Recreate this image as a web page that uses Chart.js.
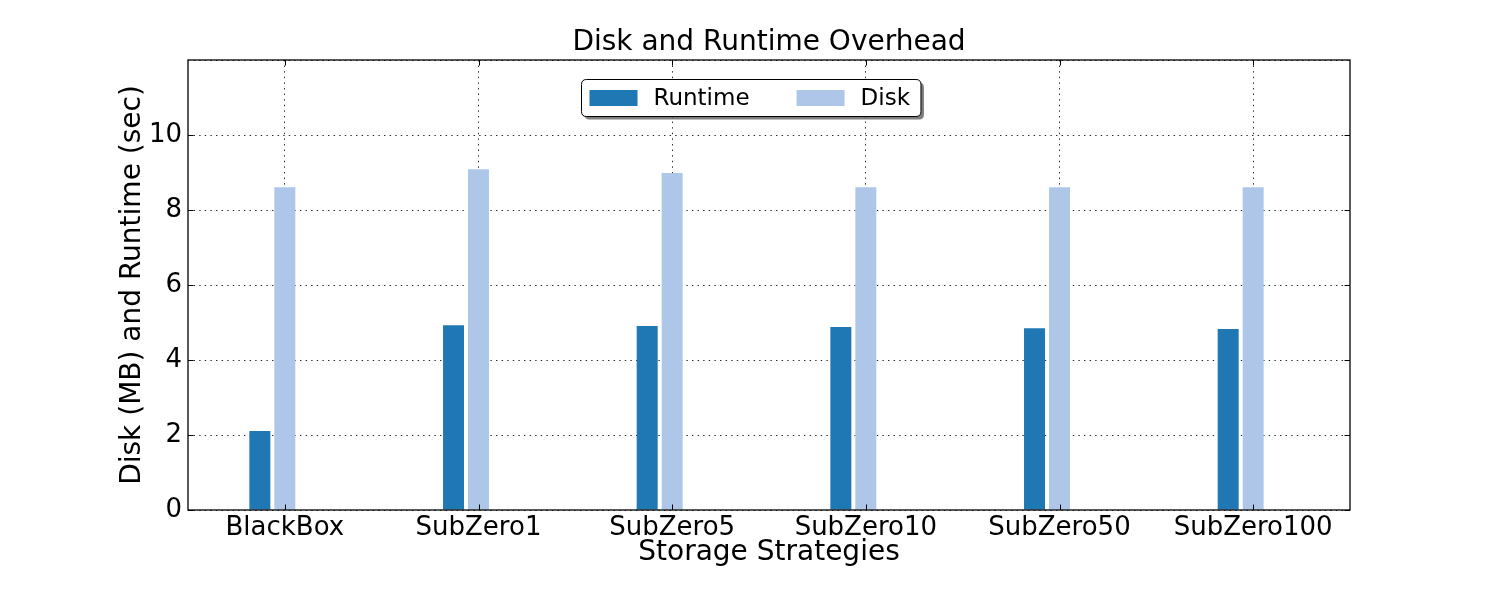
<!DOCTYPE html>
<html>
<head>
<meta charset="utf-8">
<script src="https://cdn.jsdelivr.net/npm/chart.js@4/dist/chart.umd.min.js"></script>
<style>
  html, body { margin: 0; padding: 0; background: #ffffff; }
  #wrap { width: 1500px; height: 600px; }
</style>
</head>
<body>
<div id="wrap"><canvas id="c" width="1500" height="600"></canvas></div>
<script>
const categories = ['BlackBox', 'SubZero1', 'SubZero5', 'SubZero10', 'SubZero50', 'SubZero100'];
const runtimeValues = [2.11, 4.93, 4.91, 4.88, 4.85, 4.83];
const diskValues = [8.61, 9.09, 8.99, 8.61, 8.61, 8.61];
const yTicks = [0, 2, 4, 6, 8, 10];

const FONT = 'DejaVu Sans';

const framePlugin = {
  id: 'framePlugin',
  afterDraw(chart) {
    const ctx = chart.ctx;
    const a = chart.chartArea;
    const xs = chart.scales.x, ys = chart.scales.y;
    ctx.save();
    // inward tick marks
    ctx.strokeStyle = '#000';
    ctx.lineWidth = 1;
    ctx.setLineDash([]);
    const tl = 5.5;
    yTicks.forEach(v => {
      const py = Math.round(ys.getPixelForValue(v)) + 0.5;
      ctx.beginPath();
      ctx.moveTo(a.left, py); ctx.lineTo(a.left + tl, py);
      ctx.moveTo(a.right, py); ctx.lineTo(a.right - tl, py);
      ctx.stroke();
    });
    categories.forEach((c, i) => {
      const px = Math.round(xs.getPixelForTick(i)) + 0.5;
      ctx.beginPath();
      ctx.moveTo(px, a.bottom); ctx.lineTo(px, a.bottom - tl);
      ctx.moveTo(px, a.top); ctx.lineTo(px, a.top + tl);
      ctx.stroke();
    });
    // frame
    ctx.lineWidth = 1.3;
    ctx.strokeRect(a.left, a.top, a.right - a.left, a.bottom - a.top);

    // legend
    const ds = chart.data.datasets.filter(d => d.label);
    ctx.font = '23px "' + FONT + '"';
    const patchW = 48, patchH = 16, padL = 8, gapText = 16, colGap = 47, padR = 11;
    const widths = ds.map(d => ctx.measureText(d.label).width);
    let total = padL;
    ds.forEach((d, i) => { total += patchW + gapText + widths[i] + (i < ds.length - 1 ? colGap : 0); });
    total += padR;
    const boxH = 37;
    const cx = a.left + (a.right - a.left) * 0.484;
    const bx = Math.round(cx - total / 2) + 0.5;
    const by = a.top + 19.5;
    const r = 5;
    function rr(x, y, w, h) {
      ctx.beginPath();
      ctx.moveTo(x + r, y);
      ctx.lineTo(x + w - r, y); ctx.quadraticCurveTo(x + w, y, x + w, y + r);
      ctx.lineTo(x + w, y + h - r); ctx.quadraticCurveTo(x + w, y + h, x + w - r, y + h);
      ctx.lineTo(x + r, y + h); ctx.quadraticCurveTo(x, y + h, x, y + h - r);
      ctx.lineTo(x, y + r); ctx.quadraticCurveTo(x, y, x + r, y);
      ctx.closePath();
    }
    ctx.fillStyle = 'rgba(0,0,0,0.5)';
    rr(bx + 3, by + 3, total, boxH); ctx.fill();
    ctx.fillStyle = '#fff';
    rr(bx, by, total, boxH); ctx.fill();
    ctx.strokeStyle = '#000'; ctx.lineWidth = 1;
    rr(bx, by, total, boxH); ctx.stroke();
    let x = bx + padL;
    const cy = by + boxH / 2;
    ds.forEach((d, i) => {
      ctx.fillStyle = d.backgroundColor;
      ctx.fillRect(x, cy - patchH / 2, patchW, patchH);
      x += patchW + gapText;
      ctx.fillStyle = '#000';
      ctx.textBaseline = 'middle';
      ctx.textAlign = 'left';
      ctx.fillText(d.label, x, cy + 1);
      x += widths[i] + colGap;
    });
    ctx.restore();
  }
};

const DOT = [1.4, 4.2];

new Chart(document.getElementById('c'), {
  type: 'bar',
  data: {
    labels: categories,
    datasets: [
      { label: 'Runtime', data: runtimeValues, backgroundColor: '#1f77b4', borderWidth: 0 },
      { label: 'Disk', data: diskValues, backgroundColor: '#aec7e8', borderWidth: 0 },
      { label: '', data: [], backgroundColor: 'rgba(0,0,0,0)', borderWidth: 0 }
    ]
  },
  options: {
    responsive: false,
    animation: false,
    devicePixelRatio: 1,
    categoryPercentage: 0.387,
    barPercentage: 0.84,
    layout: { padding: { left: 38, right: 0, top: 0, bottom: 0 } },
    plugins: {
      legend: { display: false },
      tooltip: { enabled: false },
      title: {
        display: true,
        text: 'Disk and Runtime Overhead',
        color: '#000',
        font: { family: FONT, size: 28, weight: 'normal', lineHeight: 1.2 },
        padding: { top: 26, bottom: 0.4 }
      }
    },
    scales: {
      x: {
        type: 'category',
        offset: true,
        z: 1,
        border: { display: false, dash: DOT },
        grid: {
          offset: false,
          display: true,
          color: 'rgba(0,0,0,0.85)',
          lineWidth: 1,
          drawTicks: false
        },
        ticks: {
          color: '#000',
          font: { family: FONT, size: 26 },
          padding: 3,
          maxRotation: 0,
          autoSkip: false
        },
        title: {
          display: true,
          text: 'Storage Strategies',
          color: '#000',
          font: { family: FONT, size: 28, lineHeight: 1.2 },
          padding: 30
        },
        afterFit(s) { s.height = 90; }
      },
      y: {
        min: 0,
        max: 12,
        z: 1,
        border: { display: false, dash: DOT },
        grid: {
          color: 'rgba(0,0,0,0.85)',
          lineWidth: 1,
          drawTicks: false
        },
        ticks: {
          stepSize: 2,
          color: '#000',
          font: { family: FONT, size: 26 },
          padding: 6,
          callback: (v) => yTicks.includes(v) ? String(v) : ''
        },
        title: {
          display: true,
          text: 'Disk (MB) and Runtime (sec)',
          color: '#000',
          font: { family: FONT, size: 28, lineHeight: 1.2 },
          padding: 78
        },
        afterFit(s) { s.width = 150; }
      },
      y2: {
        position: 'right',
        min: 0,
        max: 12,
        border: { display: false },
        grid: { display: false, drawTicks: false },
        ticks: { display: false },
        afterFit(s) { s.width = 150; }
      }
    }
  },
  plugins: [framePlugin]
});
</script>
</body>
</html>
